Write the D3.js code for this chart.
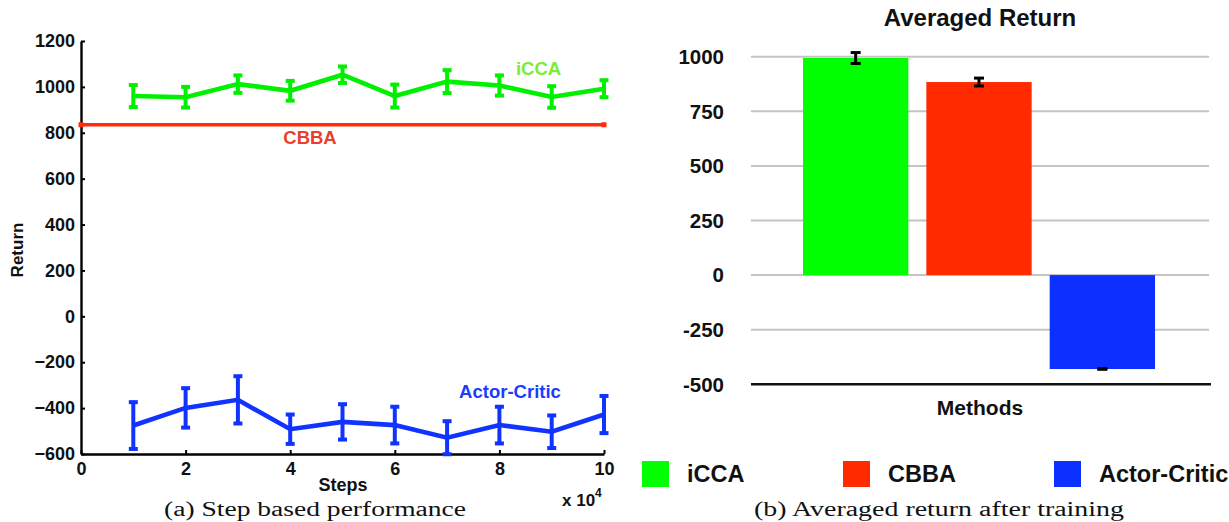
<!DOCTYPE html>
<html>
<head>
<meta charset="utf-8">
<script src="https://cdn.jsdelivr.net/npm/d3@7"></script>
<style>
  html, body { margin: 0; padding: 0; background: #fff; }
  svg { display: block; }
  text { font-family: "Liberation Sans", Arial, Helvetica, sans-serif; font-weight: bold; fill: #111; }
  .cap { font-family: "Liberation Serif", "Times New Roman", serif; font-weight: normal; }
</style>
</head>
<body>
<svg id="chart" width="1229" height="522"></svg>
<script>
// ---------- Data: (a) step based performance ----------
const steps = [1, 2, 3, 4, 5, 6, 7, 8, 9, 10];
const iccaMean = [960, 955, 1012, 983, 1053, 960, 1023, 1006, 956, 992];
const iccaErr  = [48, 45, 38, 43, 36, 50, 50, 44, 47, 37];
const acMean   = [-476, -399, -364, -492, -460, -474, -529, -474, -503, -428];
const acErr    = [102, 86, 103, 64, 77, 80, 72, 80, 71, 81];
const cbbaSteps = [0, 10];
const cbbaValue = 835;
const leftYTicks = [-600, -400, -200, 0, 200, 400, 600, 800, 1000, 1200];
const leftXTicks = [0, 2, 4, 6, 8, 10];

// ---------- Data: (b) averaged return after training ----------
const methods = ["iCCA", "CBBA", "Actor-Critic"];
const avgReturn = [994, 884, -430];
const avgErr = [25, 18, 1];
const rightYTicks = [-500, -250, 0, 250, 500, 750, 1000];

const colGreenLine = "#00f000", colGreenBar = "#00ff00";
const colRedLine = "#ff2a0a", colRedBar = "#ff2a00";
const colBlueLine = "#1133ff", colBlueBar = "#0c30ff";
const barColors = [colGreenBar, colRedBar, colBlueBar];

const svg = d3.select("#chart");

// ================= Left chart =================
const xL = d3.scaleLinear().domain([0, 10]).range([81, 604]);
const yL = d3.scaleLinear().domain([-600, 1200]).range([454, 41]);

const gL = svg.append("g");

const yAxisL = d3.axisLeft(yL).tickValues(leftYTicks).tickSize(-4).tickSizeOuter(0).tickPadding(6)
  .tickFormat(d => d < 0 ? "\u2212" + Math.abs(d) : d);
gL.append("g").attr("transform", `translate(${xL(0)},0)`).call(yAxisL)
  .call(g => g.selectAll("text").style("font-size", "18px").attr("fill", "#111"))
  .call(g => g.select(".domain").attr("stroke", "#000").attr("stroke-width", 2.4))
  .call(g => g.selectAll(".tick line").attr("stroke", "#000").attr("stroke-width", 2));

const xAxisL = d3.axisBottom(xL).tickValues(leftXTicks).tickSize(-4).tickSizeOuter(0).tickPadding(8);
gL.append("g").attr("transform", `translate(0,${yL(-600)})`).call(xAxisL)
  .call(g => g.selectAll("text").style("font-size", "18px").attr("fill", "#111"))
  .call(g => g.select(".domain").attr("stroke", "#000").attr("stroke-width", 2.4))
  .call(g => g.selectAll(".tick line").attr("stroke", "#000").attr("stroke-width", 2));

// CBBA line
const lineGen = d3.line().x(d => xL(d[0])).y(d => yL(d[1]));
gL.append("path")
  .datum(cbbaSteps.map(s => [s, cbbaValue]))
  .attr("d", lineGen).attr("fill", "none").attr("stroke", colRedLine).attr("stroke-width", 3.5);
gL.selectAll(".cbbaMark").data(cbbaSteps).enter().append("rect")
  .attr("x", d => xL(d) - 2.5).attr("y", yL(cbbaValue) - 2.5)
  .attr("width", 5).attr("height", 5).attr("fill", colRedLine);

function drawSeries(means, errs, color) {
  const pts = steps.map((s, i) => [s, means[i]]);
  gL.append("path").datum(pts).attr("d", lineGen)
    .attr("fill", "none").attr("stroke", color).attr("stroke-width", 4.6).attr("stroke-linejoin", "miter");
  const eb = gL.append("g").attr("stroke", color).attr("stroke-width", 4);
  steps.forEach((s, i) => {
    const x = xL(s), y1 = yL(means[i] + errs[i]), y2 = yL(means[i] - errs[i]);
    eb.append("line").attr("x1", x).attr("x2", x).attr("y1", y1).attr("y2", y2);
    eb.append("line").attr("x1", x - 4.5).attr("x2", x + 4.5).attr("y1", y1).attr("y2", y1);
    eb.append("line").attr("x1", x - 4.5).attr("x2", x + 4.5).attr("y1", y2).attr("y2", y2);
  });
}
drawSeries(iccaMean, iccaErr, colGreenLine);
drawSeries(acMean, acErr, colBlueLine);

// series labels
gL.append("text").attr("x", 538.5).attr("y", 75).attr("text-anchor", "middle")
  .style("font-size", "18.5px").style("fill", "#77ee33").text("iCCA");
gL.append("text").attr("x", 310).attr("y", 144).attr("text-anchor", "middle")
  .style("font-size", "18.5px").style("fill", "#e8402a").text("CBBA");
gL.append("text").attr("x", 510).attr("y", 398).attr("text-anchor", "middle")
  .style("font-size", "18.5px").style("fill", "#1a3cff").text("Actor-Critic");

// axis titles
gL.append("text").attr("transform", "translate(23,250) rotate(-90)").attr("text-anchor", "middle")
  .style("font-size", "17px").text("Return");
gL.append("text").attr("x", 343).attr("y", 491).attr("text-anchor", "middle")
  .style("font-size", "18px").text("Steps");
const mult = gL.append("text").attr("x", 562).attr("y", 506).style("font-size", "17px");
mult.append("tspan").text("x 10");
mult.append("tspan").attr("dy", -9).style("font-size", "12px").text("4");

gL.append("text").attr("class", "cap").attr("x", 164).attr("y", 516)
  .attr("textLength", 302).attr("lengthAdjust", "spacingAndGlyphs")
  .style("font-size", "20px").text("(a) Step based performance");

// ================= Right chart =================
const yR = d3.scaleLinear().domain([-500, 1000]).range([384.3, 56.7]);
const xR = d3.scaleBand().domain(methods).range([803, 1155]).paddingInner(0.146).paddingOuter(0);
const gridX0 = 751, gridX1 = 1209;

const gR = svg.append("g");

gR.selectAll(".grid").data(rightYTicks.filter(d => d !== -500)).enter().append("line")
  .attr("x1", gridX0).attr("x2", gridX1)
  .attr("y1", d => yR(d)).attr("y2", d => yR(d))
  .attr("stroke", "#c4c4c4").attr("stroke-width", 2);

gR.selectAll(".ytl").data(rightYTicks).enter().append("text")
  .attr("x", 724).attr("y", d => yR(d)).attr("dy", "0.36em").attr("text-anchor", "end")
  .style("font-size", "20.5px").text(d => d);

gR.selectAll(".bar").data(methods).enter().append("rect")
  .attr("x", d => xR(d))
  .attr("width", xR.bandwidth())
  .attr("y", (d, i) => yR(Math.max(0, avgReturn[i])))
  .attr("height", (d, i) => Math.abs(yR(avgReturn[i]) - yR(0)))
  .attr("fill", (d, i) => barColors[i]);

gR.append("line").attr("x1", gridX0).attr("x2", gridX1 + 2)
  .attr("y1", yR(-500)).attr("y2", yR(-500))
  .attr("stroke", "#111").attr("stroke-width", 2.5);

const ebR = gR.append("g").attr("stroke", "#000").attr("stroke-width", 3);
methods.forEach((m, i) => {
  const x = xR(m) + xR.bandwidth() / 2;
  const y1 = yR(avgReturn[i] + avgErr[i]), y2 = yR(avgReturn[i] - avgErr[i]);
  ebR.append("line").attr("x1", x).attr("x2", x).attr("y1", y1).attr("y2", y2);
  ebR.append("line").attr("x1", x - 5).attr("x2", x + 5).attr("y1", y1).attr("y2", y1);
  ebR.append("line").attr("x1", x - 5).attr("x2", x + 5).attr("y1", y2).attr("y2", y2);
});

gR.append("text").attr("x", 980).attr("y", 26).attr("text-anchor", "middle")
  .style("font-size", "24px").text("Averaged Return");
gR.append("text").attr("x", 980).attr("y", 415).attr("text-anchor", "middle")
  .style("font-size", "21px").text("Methods");

const legX = [642, 843, 1054];
const legTextX = [687, 888, 1099];
methods.forEach((m, i) => {
  gR.append("rect").attr("x", legX[i]).attr("y", 461).attr("width", 27).attr("height", 26)
    .attr("fill", barColors[i]);
  gR.append("text").attr("x", legTextX[i]).attr("y", 482).style("font-size", "23.5px").text(m);
});

gR.append("text").attr("class", "cap").attr("x", 754).attr("y", 516)
  .attr("textLength", 370).attr("lengthAdjust", "spacingAndGlyphs")
  .style("font-size", "20px").text("(b) Averaged return after training");
</script>
</body>
</html>
